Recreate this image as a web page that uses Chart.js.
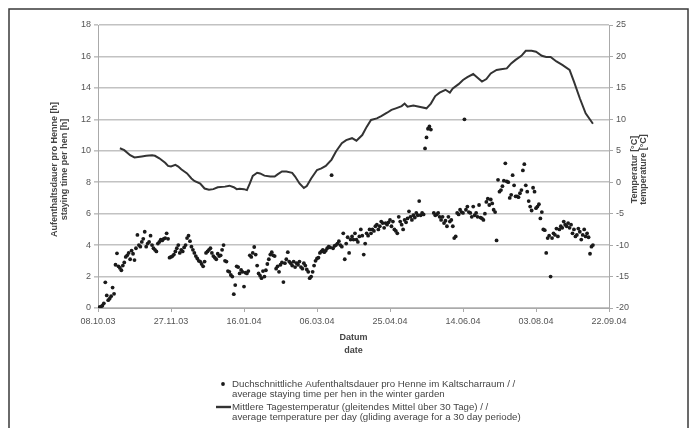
<!DOCTYPE html>
<html>
<head>
<meta charset="utf-8">
<script src="https://cdn.jsdelivr.net/npm/chart.js@4"></script>
<style>
  html, body { margin: 0; padding: 0; background: #fff; }
  #wrap { position: relative; width: 694px; height: 428px; }
</style>
</head>
<body>
<div id="wrap"><canvas id="chart" width="694" height="428"></canvas></div>
<script>
// x axis: days since 08.10.03, one tick every 50 days
const tickLabels = ['08.10.03', '27.11.03', '16.01.04', '06.03.04', '25.04.04', '14.06.04', '03.08.04', '22.09.04'];

// average staying time per hen in the winter garden [h]
const stayDays = [
    0, 1, 2, 3, 4, 5, 6, 7, 8, 9,
    10, 11, 12, 13, 14, 15, 16, 17, 18, 19,
    20, 21, 22, 23, 24, 25, 26, 27, 28, 29,
    30, 31, 32, 33, 34, 35, 36, 37, 38, 39,
    40, 41, 42, 43, 44, 45, 46, 47, 48, 49,
    50, 51, 52, 53, 54, 55, 56, 57, 58, 59,
    60, 61, 62, 63, 64, 65, 66, 67, 68, 69,
    70, 71, 72, 73, 74, 75, 76, 77, 78, 79,
    80, 81, 82, 83, 84, 85, 86, 87, 88, 89,
    90, 91, 92, 93, 94, 95, 96, 97, 98, 99,
    100, 101, 102, 103, 104, 105, 106, 107, 108, 109,
    110, 111, 112, 113, 114, 115, 116, 117, 118, 119,
    120, 121, 122, 123, 124, 125, 126, 127, 128, 129,
    130, 131, 132, 133, 134, 135, 136, 137, 138, 139,
    140, 141, 142, 143, 144, 145, 146, 147, 148, 149,
    150, 151, 152, 153, 154, 155, 156, 157, 158, 159,
    160, 161, 162, 163, 164, 165, 166, 167, 168, 169,
    170, 171, 172, 173, 174, 175, 176, 177, 178, 179,
    180, 181, 182, 183, 184, 185, 186, 187, 188, 189,
    190, 191, 192, 193, 194, 195, 196, 197, 198, 199,
    200, 201, 202, 203, 204, 205, 206, 207, 208, 209,
    210, 211, 212, 213, 214, 215, 216, 217, 218, 219,
    220, 221, 222, 223, 224, 225, 226, 227, 228,
    230, 231, 232, 233, 234, 235, 236, 237, 238, 239,
    240, 241, 242, 243, 244, 245, 246, 247, 248, 249,
    250, 251, 252, 253, 254, 255, 256, 257, 258, 259,
    260, 261, 262, 263, 264, 265, 266, 267, 268, 269,
    270, 271, 272, 273, 274, 275, 276, 277, 278, 279,
    280, 281, 282, 283, 284, 285, 286, 287, 288, 289,
    290, 291, 292, 293, 294, 295, 296, 297, 298, 299,
    300, 301, 302, 303, 304, 305, 306, 307, 308, 309,
    310, 311, 312, 313, 314, 315, 316, 317, 318, 319,
    320, 321, 322, 323, 324, 325, 326, 327, 328, 329,
    330, 331, 332, 333, 334, 335, 336, 337, 338, 339
];
const stayHours = [
    0.02, 0.05, 0.08, 0.15, 0.3, 1.63, 0.8, 0.5, 0.6, 0.75,
    1.3, 0.9, 2.75, 3.48, 2.65, 2.55, 2.4, 2.7, 2.9, 3.25,
    3.35, 3.5, 3.1, 3.65, 3.45, 3.05, 3.8, 4.65, 4.0, 3.9,
    4.2, 4.4, 4.85, 3.9, 4.1, 4.2, 4.6, 4.0, 3.8, 3.7,
    3.6, 4.1, 4.2, 4.35, 4.3, 4.4, 4.45, 4.75, 4.4, 3.2,
    3.25, 3.3, 3.4, 3.6, 3.8, 4.0, 3.5, 3.7, 3.6, 3.85,
    4.0, 4.45, 4.6, 4.25, 3.9, 3.7, 3.5, 3.3, 3.15, 3.0,
    2.95, 2.8, 2.65, 2.95, 3.5, 3.6, 3.7, 3.8, 3.5, 3.3,
    3.2, 3.1, 3.45, 3.3, 3.35, 3.7, 4.0, 3.0, 2.95, 2.35,
    2.3, 2.1, 2.0, 0.88, 1.46, 2.65, 2.6, 2.2, 2.42, 2.3,
    1.36, 2.25, 2.2, 2.35, 3.35, 3.25, 3.5, 3.88, 3.4, 2.7,
    2.2, 2.05, 1.9, 2.35, 2.0, 2.4, 2.8, 3.1, 3.4, 3.55,
    3.35, 3.3, 2.5, 2.65, 2.3, 2.75, 2.9, 1.65, 2.85, 3.1,
    3.55, 2.95, 2.85, 2.7, 2.95, 2.6, 2.85, 2.75, 2.95, 2.6,
    2.5, 2.85, 2.7, 2.45, 2.3, 1.9, 2.0, 2.3, 2.7, 3.0,
    3.15, 3.2, 3.5, 3.6, 3.7, 3.55, 3.65, 3.8, 3.9, 3.85,
    8.45, 3.8, 3.95, 4.0, 4.1, 4.25, 4.0, 3.9, 4.75, 3.1,
    4.1, 4.5, 3.5, 4.35, 4.55, 4.35, 4.75, 4.35, 4.2, 4.55,
    5.0, 4.6, 3.4, 4.1, 4.75, 4.6, 5.0, 4.75, 5.0, 4.9,
    5.2, 5.3, 5.0, 5.2, 5.5, 5.4, 5.1, 5.4, 5.3, 5.45,
    5.6, 5.2, 5.5, 5.0, 4.9, 4.75, 5.8, 5.5, 5.3, 5.0,
    5.6, 5.45, 5.7, 6.15, 5.8, 5.6, 5.9, 5.75, 6.05, 5.9,
    6.8, 5.9, 6.05, 5.95, 10.15, 10.85, 11.4, 11.55, 11.35,
    6.05, 5.9, 5.95, 6.05, 5.8, 5.6, 5.8, 5.4, 5.55, 5.2,
    5.8, 5.5, 5.6, 5.2, 4.45, 4.55, 6.05, 5.95, 6.25, 6.1,
    6.05, 12.0, 6.25, 6.45, 6.1, 6.05, 5.8, 6.45, 5.9, 6.05,
    5.8, 6.55, 5.75, 5.7, 5.6, 6.0, 6.75, 6.95, 6.55, 6.9,
    6.65, 6.25, 6.1, 4.3, 8.15, 7.4, 7.5, 7.75, 8.1, 9.2,
    8.05, 8.0, 7.0, 7.2, 8.45, 7.8, 7.1, 7.1, 7.05, 7.3,
    7.5, 8.75, 9.15, 7.8, 7.4, 6.8, 6.45, 6.2, 7.65, 7.4,
    6.35, 6.45, 6.6, 5.7, 6.1, 5.0, 4.95, 3.5, 4.45, 4.6,
    2.0, 4.45, 4.75, 4.65, 5.05, 4.55, 5.0, 5.2, 5.1, 5.5,
    5.3, 5.2, 5.4, 5.1, 5.3, 4.75, 5.0, 4.55, 4.65, 5.05,
    4.85, 4.35, 4.65, 5.0, 4.55, 4.75, 4.5, 3.45, 3.9, 4.0
];

// 30 day gliding average of the daily temperature [°C]
const tempDays = [
    15, 18, 22, 25, 30, 33, 37, 39, 42, 46,
    48, 50, 53, 55, 57, 61, 64, 66, 70, 73,
    76, 79, 82, 87, 90, 93, 95, 97, 100, 102,
    104, 106, 109, 111, 114, 118, 121, 123, 126, 129,
    133, 135, 138, 141, 143, 146, 150, 153, 156, 160,
    163, 167, 170, 174, 177, 181, 184, 187, 191, 194,
    198, 201, 204, 208, 210, 212, 216, 220, 225, 228,
    231, 234, 238, 241, 243, 247, 250, 253, 257, 259,
    263, 266, 269, 273, 276, 280, 283, 286, 290, 293,
    297, 300, 304, 307, 310, 314, 318, 323, 326, 330,
    334, 339
];
const tempValues = [
    5.4, 5.1, 4.3, 3.95, 4.1, 4.2, 4.3, 4.2, 3.8, 3.1,
    2.6, 2.5, 2.75, 2.5, 2.05, 1.4, 0.6, 0.2, -0.2, -1.0,
    -1.2, -1.1, -0.8, -0.7, -0.55, -0.8, -1.1, -1.05, -1.1, -1.25,
    -0.2, 1.0, 1.5, 1.4, 1.05, 0.9, 0.9, 1.25, 1.7, 1.7,
    1.5, 0.9, -0.2, -0.9, -0.6, 0.6, 1.95, 2.2, 2.6, 3.6,
    4.9, 6.2, 6.7, 7.0, 6.6, 7.5, 8.8, 9.9, 10.15, 10.5,
    11.05, 11.5, 11.75, 12.1, 12.5, 12.0, 12.2, 12.0, 11.75, 12.5,
    13.7, 14.25, 14.7, 14.25, 14.9, 15.6, 16.25, 16.7, 17.2, 16.8,
    16.0, 16.4, 17.3, 17.85, 17.95, 18.1, 18.9, 19.45, 20.1, 20.9,
    20.9, 20.75, 20.1, 19.9, 19.9, 19.2, 18.65, 17.85, 16.0, 13.35,
    10.95, 9.3
];

const leftTitle = ['Aufenthaltsdauer pro Henne [h]', 'staying time per hen [h]'];
const rightTitle = ['Temperatur [°C]', 'temperature [°C]'];
const xTitle = ['Datum', 'date'];
const legendDots = ['Duchschnittliche Aufenthaltsdauer pro Henne im Kaltscharraum / /', 'average staying time per hen in the winter garden'];
const legendLine = ['Mittlere Tagestemperatur (gleitendes Mittel über 30 Tage) / /', 'average temperature per day (gliding average for a 30 day periode)'];

const FONT = '"Liberation Sans", Arial, sans-serif';

// frame, axis titles and the legend are drawn by hand
const decorPlugin = {
    id: 'decor',
    afterDraw(chart) {
        const ctx = chart.ctx;
        const area = chart.chartArea;
        const midY = (area.top + area.bottom) / 2 + 3;
        ctx.save();

        ctx.strokeStyle = '#3a3a3a';
        ctx.lineWidth = 1.5;
        ctx.strokeRect(9, 9, 679, 440);

        ctx.fillStyle = '#444';
        ctx.font = 'bold 9px ' + FONT;
        ctx.textAlign = 'center';
        ctx.textBaseline = 'middle';

        ctx.save();
        ctx.translate(55, midY);
        ctx.rotate(-Math.PI / 2);
        ctx.fillText(leftTitle[0], 0, 0);
        ctx.fillText(leftTitle[1], 0, 10);
        ctx.restore();

        ctx.save();
        ctx.translate(635, midY);
        ctx.rotate(-Math.PI / 2);
        ctx.fillText(rightTitle[0], 0, 0);
        ctx.fillText(rightTitle[1], 0, 9);
        ctx.restore();

        const midX = (area.left + area.right) / 2;
        ctx.fillText(xTitle[0], midX, 338);
        ctx.fillText(xTitle[1], midX, 351);

        // legend
        ctx.font = '9.7px ' + FONT;
        ctx.textAlign = 'left';
        ctx.fillStyle = '#1a1a1a';
        ctx.beginPath();
        ctx.arc(223, 384, 1.9, 0, Math.PI * 2);
        ctx.fill();
        ctx.strokeStyle = '#333';
        ctx.lineWidth = 2.4;
        ctx.beginPath();
        ctx.moveTo(216, 407);
        ctx.lineTo(231, 407);
        ctx.stroke();

        ctx.fillStyle = '#444';
        ctx.fillText(legendDots[0], 232, 384);
        ctx.fillText(legendDots[1], 232, 394);
        ctx.fillText(legendLine[0], 232, 407);
        ctx.fillText(legendLine[1], 232, 417);
        ctx.restore();
    }
};

const stayPoints = stayDays.map((d, i) => ({ x: d, y: stayHours[i] }));
const tempPoints = tempDays.map((d, i) => ({ x: d, y: tempValues[i] }));

const tickFont = { family: FONT, size: 9 };

new Chart(document.getElementById('chart'), {
    type: 'scatter',
    data: {
        datasets: [
            {
                label: legendDots.join(' '),
                data: stayPoints,
                yAxisID: 'y',
                pointStyle: 'circle',
                pointRadius: 1.9,
                pointBackgroundColor: '#1a1a1a',
                pointBorderWidth: 0,
                showLine: false
            },
            {
                label: legendLine.join(' '),
                data: tempPoints,
                yAxisID: 'y1',
                showLine: true,
                borderColor: '#333',
                borderWidth: 2,
                pointRadius: 0,
                tension: 0
            }
        ]
    },
    options: {
        responsive: false,
        animation: false,
        devicePixelRatio: 1,
        layout: { padding: { top: 25, bottom: 100, left: 0, right: 0 } },
        plugins: {
            legend: { display: false },
            tooltip: { enabled: false }
        },
        scales: {
            x: {
                type: 'linear',
                min: 0,
                max: 350,
                afterFit: (scale) => { scale.height = 20; },
                ticks: {
                    stepSize: 50,
                    autoSkip: false,
                    maxRotation: 0,
                    padding: 4,
                    color: '#555',
                    font: tickFont,
                    callback: (v) => tickLabels[v / 50]
                },
                grid: { drawOnChartArea: false, tickLength: 4, color: '#aaa' },
                border: { color: '#aaa', width: 1 }
            },
            y: {
                position: 'left',
                min: 0,
                max: 18,
                afterFit: (scale) => { scale.width = 98; },
                ticks: { stepSize: 2, padding: 3, color: '#555', font: tickFont },
                grid: { color: '#c2c2c2', lineWidth: 1.6, tickLength: 4 },
                border: { color: '#aaa', width: 1 }
            },
            y1: {
                position: 'right',
                min: -20,
                max: 25,
                afterFit: (scale) => { scale.width = 85; },
                ticks: { stepSize: 5, padding: 3, color: '#555', font: tickFont },
                grid: { drawOnChartArea: false, tickLength: 4, color: '#aaa' },
                border: { color: '#aaa', width: 1 }
            }
        }
    },
    plugins: [decorPlugin]
});
</script>
</body>
</html>
